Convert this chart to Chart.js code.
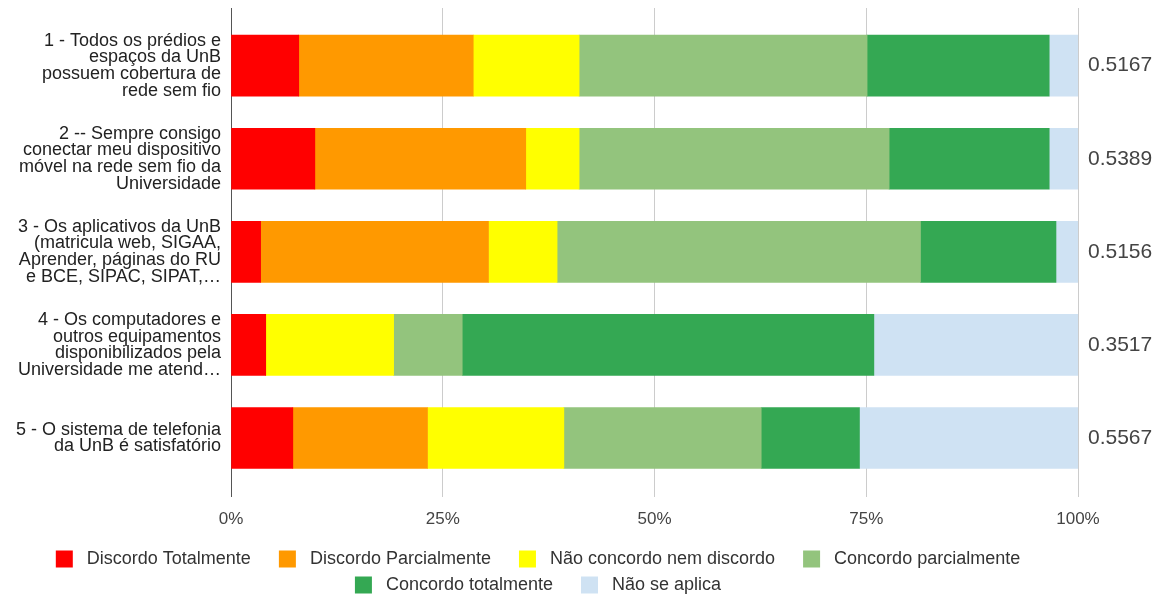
<!DOCTYPE html>
<html lang="pt-BR">
<head>
<meta charset="utf-8">
<title>Infraestrutura de TI da UnB</title>
<script src="https://cdn.jsdelivr.net/npm/chart.js@4.4.1/dist/chart.umd.min.js"></script>
<style>
  html, body { margin: 0; padding: 0; background: #ffffff; }
  #wrap { width: 1164px; height: 595px; position: relative; }
</style>
</head>
<body>
<div id="wrap"><canvas id="chart"></canvas></div>
<script>
// Survey statements (one bar each), wrapped as drawn on the axis
const questions = [
  ['1 - Todos os prédios e', 'espaços da UnB', 'possuem cobertura de', 'rede sem fio'],
  ['2 -- Sempre consigo', 'conectar meu dispositivo', 'móvel na rede sem fio da', 'Universidade'],
  ['3 - Os aplicativos da UnB', '(matricula web, SIGAA,', 'Aprender, páginas do RU', 'e BCE, SIPAC, SIPAT,…'],
  ['4 - Os computadores e', 'outros equipamentos', 'disponibilizados pela', 'Universidade me atend…'],
  ['5 - O sistema de telefonia', 'da UnB é satisfatório']
];

// Index shown to the right of each bar
const indexLabels = ['0.5167', '0.5389', '0.5156', '0.3517', '0.5567'];

// Share of answers (%) per statement
const discordoTotalmente   = [8.0, 9.9, 3.5, 4.1, 7.3];
const discordoParcialmente = [20.6, 24.9, 26.9, 0.0, 15.9];
const naoConcordoNemDisc   = [12.5, 6.3, 8.1, 15.1, 16.1];
const concordoParcialmente = [34.0, 36.6, 42.9, 8.1, 23.3];
const concordoTotalmente   = [21.5, 18.9, 16.0, 48.6, 11.6];
const naoSeAplica          = [3.4, 3.4, 2.6, 24.1, 25.8];

const xTicks = [0, 25, 50, 75, 100];

const seriesNames = ['Discordo Totalmente', 'Discordo Parcialmente', 'Não concordo nem discordo',
                     'Concordo parcialmente', 'Concordo totalmente', 'Não se aplica'];
const seriesValues = [discordoTotalmente, discordoParcialmente, naoConcordoNemDisc,
                      concordoParcialmente, concordoTotalmente, naoSeAplica];
const seriesColors = ['#ff0000', '#ff9900', '#ffff00', '#93c47d', '#34a853', '#cfe2f3'];

const FONT = "'Liberation Sans', Arial, sans-serif";

const datasets = seriesNames.map((name, s) => ({
  label: name,
  data: seriesValues[s].map((v, i) => ({ x: v, y: i })),
  backgroundColor: seriesColors[s],
  borderWidth: 0,
  barThickness: 61
}));

// Nudges the bottom legend to its place under the plot
const legendPlacement = {
  id: 'legendPlacement',
  afterLayout(chart) {
    const lg = chart.legend;
    if (!lg) return;
    const dx = -34, dy = -1;
    lg.left += dx; lg.right += dx;
    lg.top += dy; lg.bottom += dy;
  }
};

// Row axis: statements sit at integer positions 0..4
function rowAxis(position, width) {
  return {
    type: 'linear',
    position,
    min: -0.62,
    max: 4.63,
    reverse: true,
    offset: false,
    stacked: true,
    grid: { display: false, drawTicks: false, offset: false },
    border: { display: false },
    afterFit(scale) {
      scale.width = width;
      scale.paddingTop = 0;
      scale.paddingBottom = 0;
    }
  };
}

new Chart(document.getElementById('chart'), {
  type: 'bar',
  data: { datasets },
  plugins: [legendPlacement],
  options: {
    indexAxis: 'y',
    responsive: true,
    maintainAspectRatio: false,
    animation: false,
    layout: { padding: { top: 8, left: 0, right: 0, bottom: -10 } },
    scales: {
      x: {
        type: 'linear',
        min: 0,
        max: 100,
        stacked: true,
        afterBuildTicks(scale) { scale.ticks = xTicks.map(v => ({ value: v })); },
        grid: {
          color: ctx => (ctx.tick && ctx.tick.value === 0) ? '#555555' : '#cccccc',
          lineWidth: 1,
          drawTicks: false
        },
        border: { display: false },
        ticks: {
          padding: 13,
          color: '#444444',
          font: { family: FONT, size: 17 },
          callback: v => v + '%'
        }
      },
      y: Object.assign(rowAxis('left', 231), {
        ticks: {
          stepSize: 1,
          autoSkip: false,
          padding: 10,
          color: '#222222',
          font: { family: FONT, size: 18, lineHeight: 0.93 },
          callback: v => Number.isInteger(v) && questions[v] ? questions[v] : ''
        }
      }),
      y2: Object.assign(rowAxis('right', 86), {
        ticks: {
          stepSize: 1,
          autoSkip: false,
          padding: 10,
          color: '#444444',
          font: { family: FONT, size: 21 },
          callback: v => Number.isInteger(v) && indexLabels[v] ? indexLabels[v] : ''
        }
      })
    },
    plugins: {
      tooltip: { enabled: false },
      legend: {
        position: 'bottom',
        labels: {
          boxWidth: 17,
          boxHeight: 17,
          padding: 8,
          color: '#333333',
          font: { family: FONT, size: 18 },
          generateLabels(chart) {
            const items = Chart.defaults.plugins.legend.labels.generateLabels(chart);
            items.forEach(it => { it.text = ' ' + it.text + '    '; it.lineWidth = 0; });
            return items;
          }
        }
      }
    }
  }
});
</script>
</body>
</html>
